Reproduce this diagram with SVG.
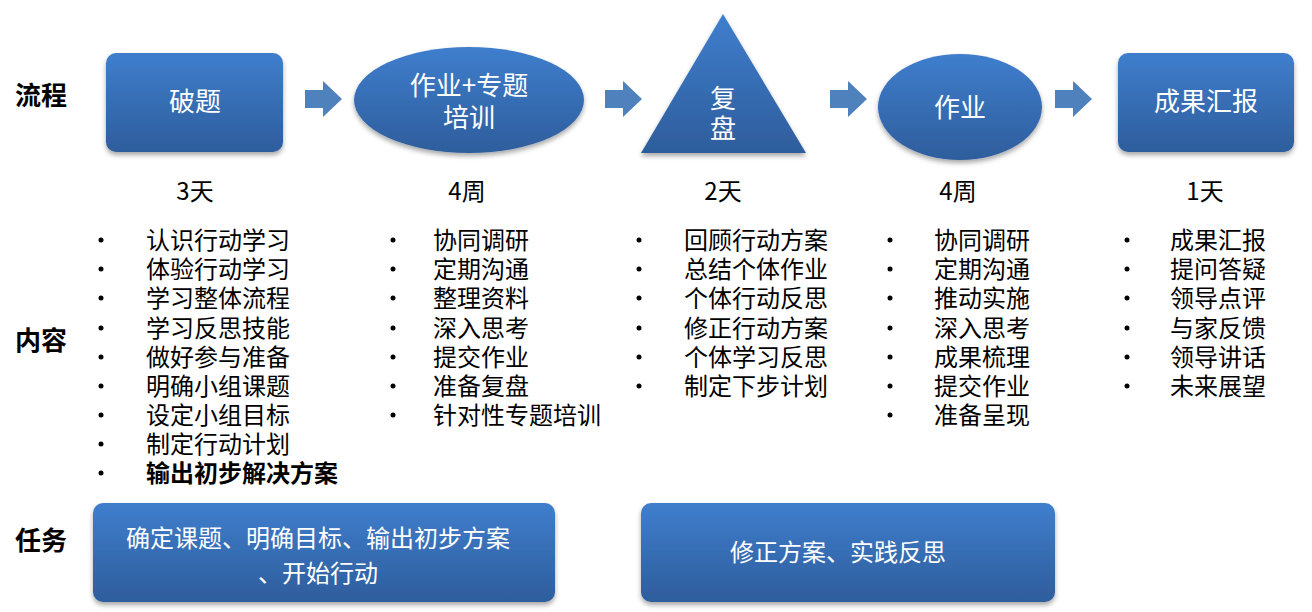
<svg xmlns="http://www.w3.org/2000/svg" width="1312" height="612" viewBox="0 0 1312 612">
<style>
.t{font-family:"Microsoft YaHei","Noto Sans CJK SC",sans-serif;}
.w{fill:#ffffff;font-size:26px;text-anchor:middle;dominant-baseline:central;}
.wb{fill:#ffffff;font-size:24px;text-anchor:middle;dominant-baseline:central;}
.lbl{fill:#000;font-size:26px;font-weight:bold;dominant-baseline:central;}
.dur{fill:#000;font-size:24px;text-anchor:middle;dominant-baseline:central;}
.it{fill:#000;font-size:24px;dominant-baseline:central;}
.bul{fill:#000;}
.shape{fill:url(#g);filter:url(#sh);}
.arr{fill:#4f81bd;}
</style>
<defs>
<linearGradient id="g" x1="0" y1="0" x2="0" y2="1">
<stop offset="0" stop-color="#3f7ecd"/>
<stop offset="1" stop-color="#2e5d9c"/>
</linearGradient>
<filter id="sh" x="-10%" y="-10%" width="120%" height="130%">
<feGaussianBlur in="SourceAlpha" stdDeviation="2.5"/>
<feOffset dx="0" dy="3" result="b"/>
<feComponentTransfer><feFuncA type="linear" slope="0.35"/></feComponentTransfer>
<feMerge><feMergeNode/><feMergeNode in="SourceGraphic"/></feMerge>
</filter>
<path id="ar" d="M0,-9 L18,-9 L18,-18 L37,0 L18,18 L18,9 L0,9 Z"/>
</defs>

<g id="labels" class="t">
<text class="lbl" x="15" y="93">流程</text>
<text class="lbl" x="15" y="338">内容</text>
<text class="lbl" x="15" y="538">任务</text>
</g>

<g id="connectors">
<use href="#ar" class="arr" x="305" y="99"/>
<use href="#ar" class="arr" x="605" y="99"/>
<use href="#ar" class="arr" x="830" y="99"/>
<use href="#ar" class="arr" x="1055" y="99"/>
</g>

<g id="n-poti" class="t">
<rect class="shape" x="106" y="53" width="177" height="99" rx="10"/>
<text class="w" x="195" y="99">破题</text>
</g>
<g id="n-zuoye-peixun" class="t">
<ellipse class="shape" cx="469" cy="100" rx="115" ry="53"/>
<text class="w" x="469" y="83">作业+专题</text>
<text class="w" x="469" y="115">培训</text>
</g>
<g id="n-fupan" class="t">
<polygon class="shape" points="723,14 806,153 641,153"/>
<text class="w" x="723" y="96">复</text>
<text class="w" x="723" y="126">盘</text>
</g>
<g id="n-zuoye" class="t">
<ellipse class="shape" cx="960" cy="107" rx="82" ry="53"/>
<text class="w" x="960" y="105">作业</text>
</g>
<g id="n-huibao" class="t">
<rect class="shape" x="1118" y="53" width="176" height="99" rx="10"/>
<text class="w" x="1206" y="99">成果汇报</text>
</g>

<g id="durations" class="t">
<text class="dur" x="195" y="189">3天</text>
<text class="dur" x="467" y="189">4周</text>
<text class="dur" x="723" y="189">2天</text>
<text class="dur" x="958" y="189">4周</text>
<text class="dur" x="1205" y="189">1天</text>
</g>

<g id="col1" class="t">
<g class="bul">
<circle cx="101" cy="240" r="2.5"/><circle cx="101" cy="269" r="2.5"/><circle cx="101" cy="298" r="2.5"/><circle cx="101" cy="328" r="2.5"/><circle cx="101" cy="357" r="2.5"/><circle cx="101" cy="386" r="2.5"/><circle cx="101" cy="415" r="2.5"/><circle cx="101" cy="444" r="2.5"/><circle cx="101" cy="473" r="2.5"/>
</g>
<text class="it" x="146" y="238">认识行动学习</text>
<text class="it" x="146" y="267">体验行动学习</text>
<text class="it" x="146" y="296">学习整体流程</text>
<text class="it" x="146" y="326">学习反思技能</text>
<text class="it" x="146" y="355">做好参与准备</text>
<text class="it" x="146" y="384">明确小组课题</text>
<text class="it" x="146" y="413">设定小组目标</text>
<text class="it" x="146" y="442">制定行动计划</text>
<text class="it" x="146" y="471" font-weight="bold">输出初步解决方案</text>
</g>

<g id="col2" class="t">
<g class="bul">
<circle cx="393" cy="240" r="2.5"/><circle cx="393" cy="269" r="2.5"/><circle cx="393" cy="298" r="2.5"/><circle cx="393" cy="328" r="2.5"/><circle cx="393" cy="357" r="2.5"/><circle cx="393" cy="386" r="2.5"/><circle cx="393" cy="415" r="2.5"/>
</g>
<text class="it" x="433" y="238">协同调研</text>
<text class="it" x="433" y="267">定期沟通</text>
<text class="it" x="433" y="296">整理资料</text>
<text class="it" x="433" y="326">深入思考</text>
<text class="it" x="433" y="355">提交作业</text>
<text class="it" x="433" y="384">准备复盘</text>
<text class="it" x="433" y="413">针对性专题培训</text>
</g>

<g id="col3" class="t">
<g class="bul">
<circle cx="639" cy="240" r="2.5"/><circle cx="639" cy="269" r="2.5"/><circle cx="639" cy="298" r="2.5"/><circle cx="639" cy="328" r="2.5"/><circle cx="639" cy="357" r="2.5"/><circle cx="639" cy="386" r="2.5"/>
</g>
<text class="it" x="684" y="238">回顾行动方案</text>
<text class="it" x="684" y="267">总结个体作业</text>
<text class="it" x="684" y="296">个体行动反思</text>
<text class="it" x="684" y="326">修正行动方案</text>
<text class="it" x="684" y="355">个体学习反思</text>
<text class="it" x="684" y="384">制定下步计划</text>
</g>

<g id="col4" class="t">
<g class="bul">
<circle cx="890" cy="240" r="2.5"/><circle cx="890" cy="269" r="2.5"/><circle cx="890" cy="298" r="2.5"/><circle cx="890" cy="328" r="2.5"/><circle cx="890" cy="357" r="2.5"/><circle cx="890" cy="386" r="2.5"/><circle cx="890" cy="415" r="2.5"/>
</g>
<text class="it" x="934" y="238">协同调研</text>
<text class="it" x="934" y="267">定期沟通</text>
<text class="it" x="934" y="296">推动实施</text>
<text class="it" x="934" y="326">深入思考</text>
<text class="it" x="934" y="355">成果梳理</text>
<text class="it" x="934" y="384">提交作业</text>
<text class="it" x="934" y="413">准备呈现</text>
</g>

<g id="col5" class="t">
<g class="bul">
<circle cx="1127" cy="240" r="2.5"/><circle cx="1127" cy="269" r="2.5"/><circle cx="1127" cy="298" r="2.5"/><circle cx="1127" cy="328" r="2.5"/><circle cx="1127" cy="357" r="2.5"/><circle cx="1127" cy="386" r="2.5"/>
</g>
<text class="it" x="1170" y="238">成果汇报</text>
<text class="it" x="1170" y="267">提问答疑</text>
<text class="it" x="1170" y="296">领导点评</text>
<text class="it" x="1170" y="326">与家反馈</text>
<text class="it" x="1170" y="355">领导讲话</text>
<text class="it" x="1170" y="384">未来展望</text>
</g>

<g id="task1" class="t">
<rect class="shape" x="93" y="503" width="462" height="99" rx="10"/>
<text class="wb" x="318" y="536">确定课题、明确目标、输出初步方案</text>
<text class="wb" x="318" y="571">、开始行动</text>
</g>
<g id="task2" class="t">
<rect class="shape" x="641" y="503" width="414" height="99" rx="10"/>
<text class="wb" x="838" y="550">修正方案、实践反思</text>
</g>
</svg>
